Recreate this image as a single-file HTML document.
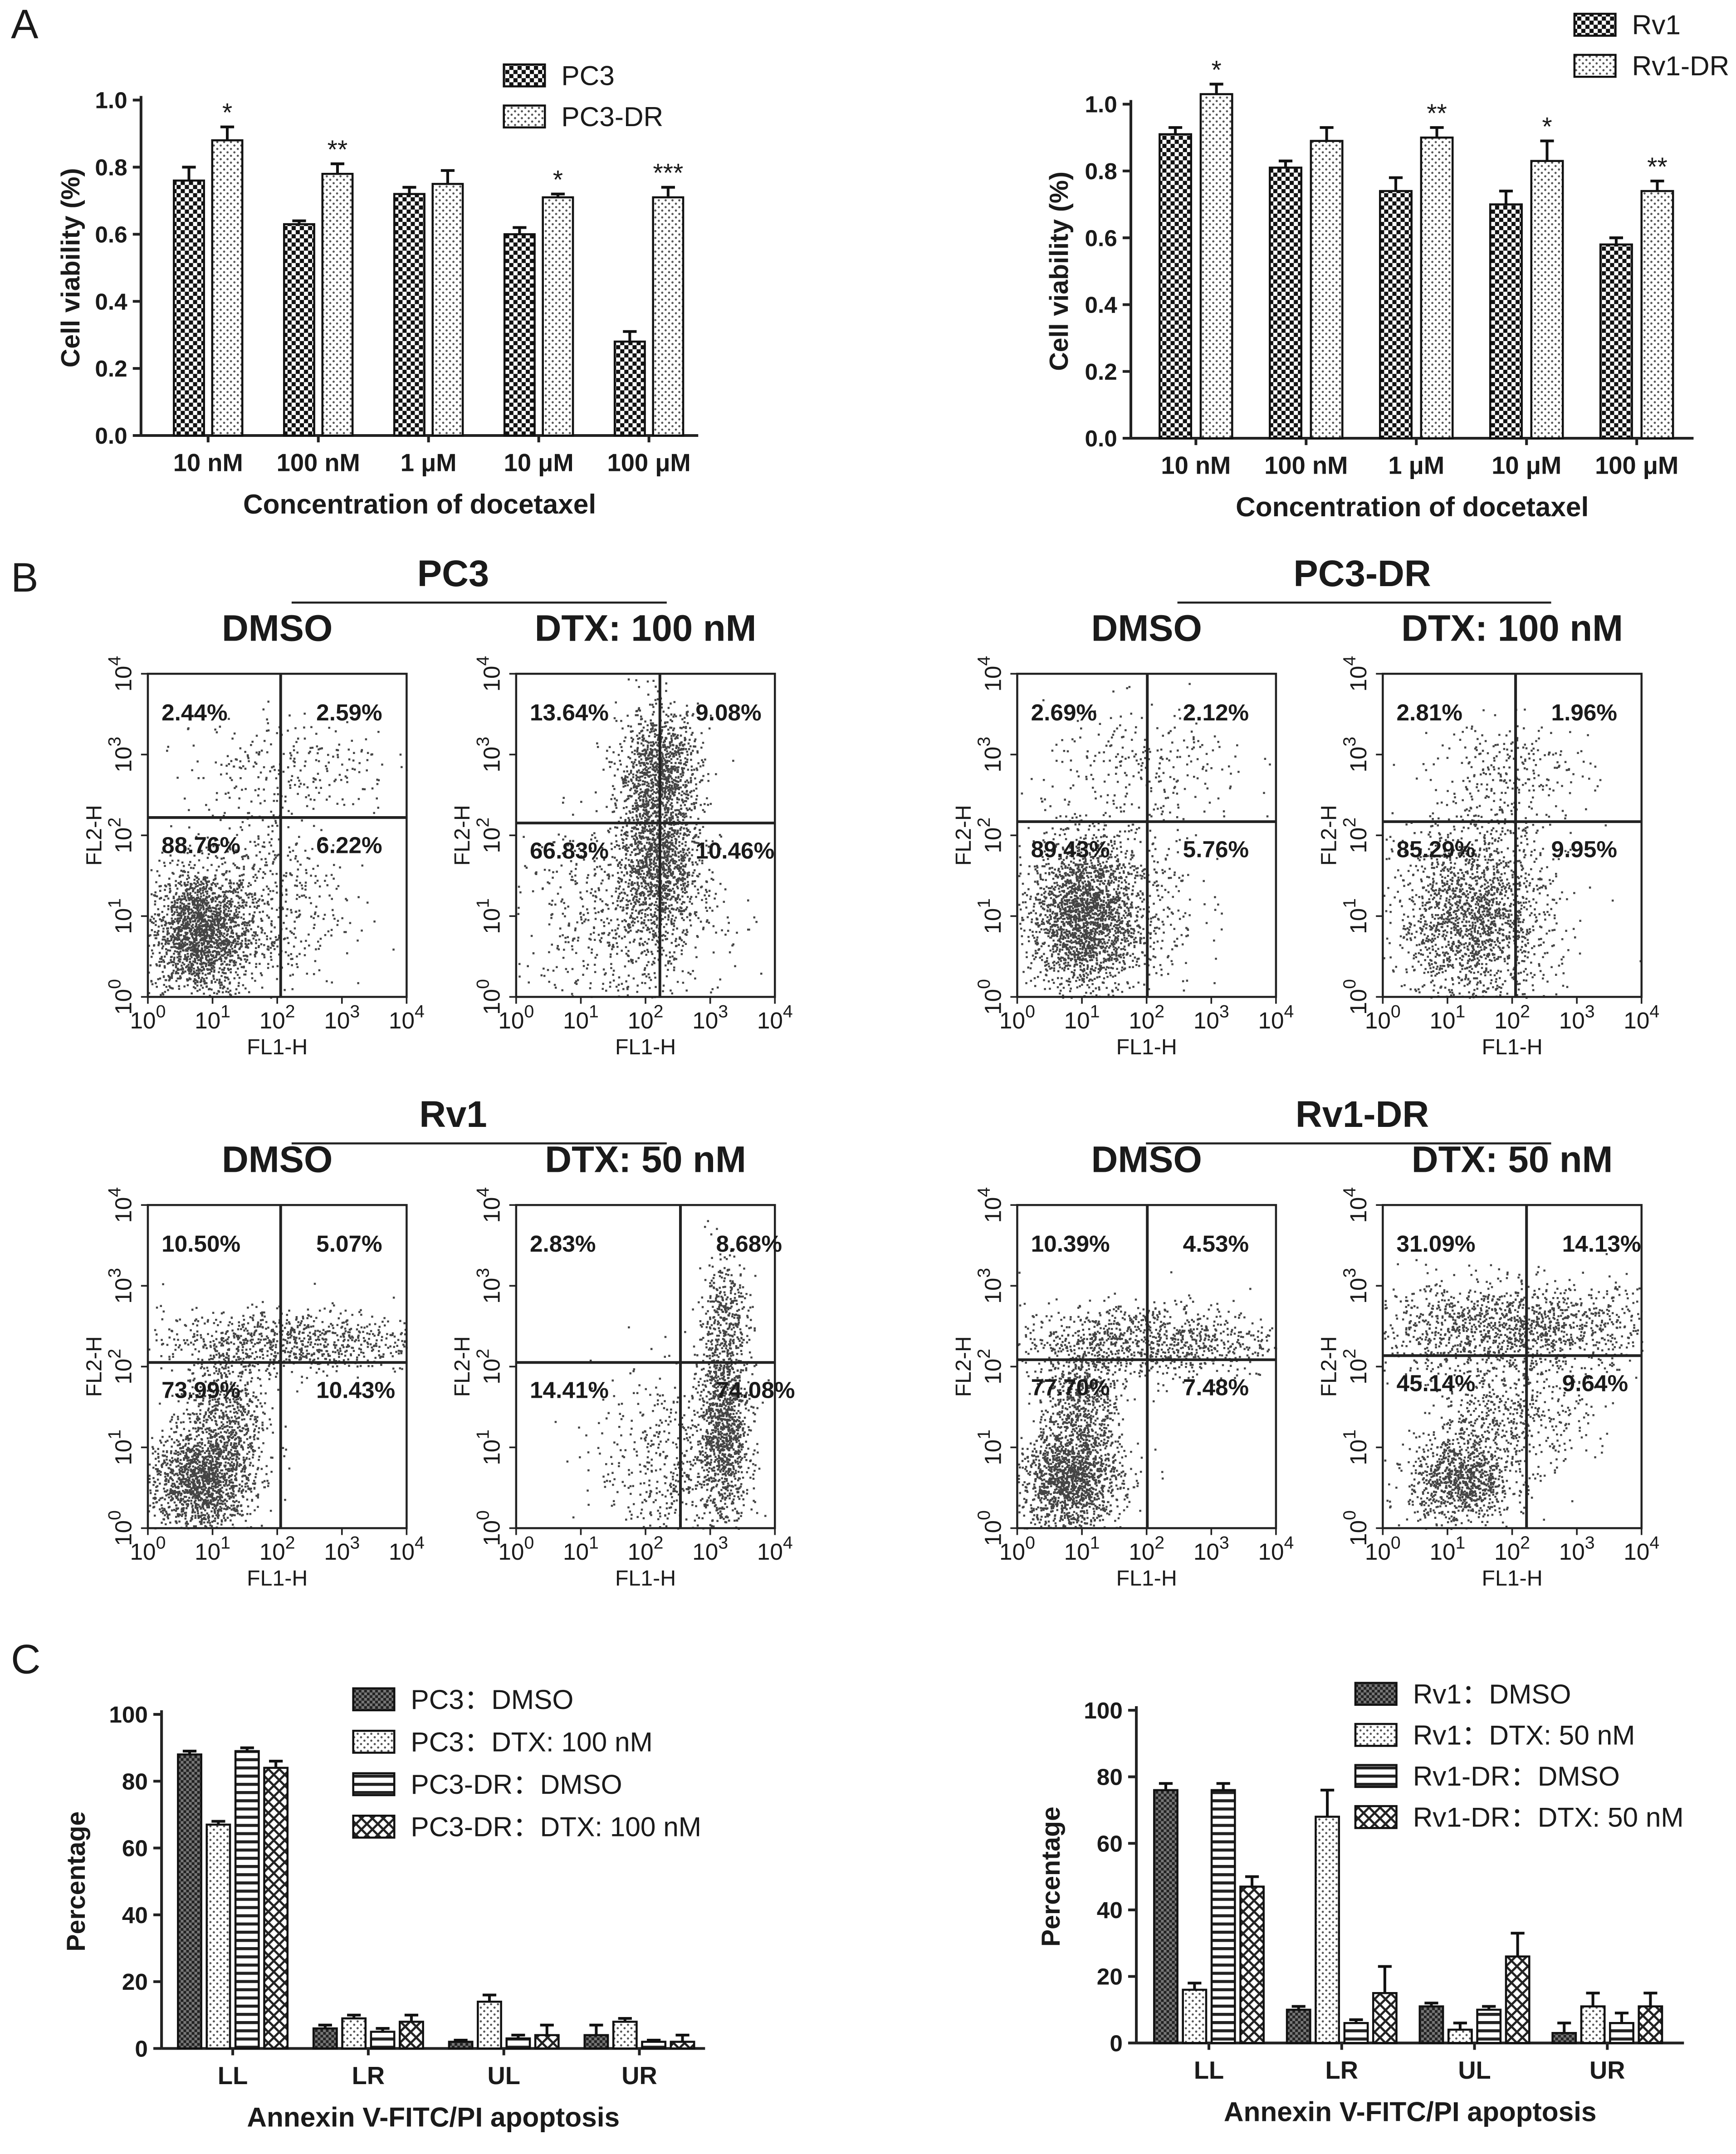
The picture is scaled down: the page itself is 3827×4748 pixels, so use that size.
<!DOCTYPE html>
<html><head><meta charset="utf-8"><style>
html,body{margin:0;padding:0;background:#fff}
svg{display:block}
text{font-family:"Liberation Sans",Arial,sans-serif;fill:#1a1a1a}
</style></head><body>
<svg id="fig" xmlns="http://www.w3.org/2000/svg" width="3827" height="4748" viewBox="0 0 1268 1573">
<defs>
<pattern id="pChk" width="6" height="6" patternUnits="userSpaceOnUse"><rect width="6" height="6" fill="#fff"/><rect width="3" height="3" fill="#111"/><rect x="3" y="3" width="3" height="3" fill="#111"/></pattern>
<pattern id="pDot" width="5" height="5" patternUnits="userSpaceOnUse"><rect width="5" height="5" fill="#fff"/><circle cx="1.2" cy="1.2" r="0.8" fill="#555"/><circle cx="3.7" cy="3.7" r="0.8" fill="#555"/></pattern>
<pattern id="pDense" width="4" height="4" patternUnits="userSpaceOnUse"><rect width="4" height="4" fill="#777"/><rect width="2" height="2" fill="#222"/><rect x="2" y="2" width="2" height="2" fill="#222"/></pattern>
<pattern id="pStripe" width="6" height="6" patternUnits="userSpaceOnUse"><rect width="6" height="6" fill="#fff"/><rect y="0" width="6" height="2.2" fill="#222"/></pattern>
<pattern id="pCross" width="8" height="8" patternUnits="userSpaceOnUse"><rect width="8" height="8" fill="#fff"/><path d="M0 0L8 8M8 0L0 8" stroke="#222" stroke-width="1.6"/></pattern>
</defs>
<g id="root"></g>
</svg>
<script>
// ---------- DATA ----------
const concLabels = ["10 nM","100 nM","1 μM","10 μM","100 μM"];
const pc3Vals = [0.76,0.63,0.72,0.60,0.28];
const pc3Err = [0.04,0.01,0.02,0.02,0.03];
const pc3drVals = [0.88,0.78,0.75,0.71,0.71];
const pc3drErr = [0.04,0.03,0.04,0.01,0.03];
const pcStars = ["*","**","","*","***"];
const rv1Vals = [0.91,0.81,0.74,0.70,0.58];
const rv1Err = [0.02,0.02,0.04,0.04,0.02];
const rv1drVals = [1.03,0.89,0.90,0.83,0.74];
const rv1drErr = [0.03,0.04,0.03,0.06,0.03];
const rvStars = ["*","","**","*","**"];
const yTicksA = [0.0,0.2,0.4,0.6,0.8,1.0];
const quadLabels = ["LL","LR","UL","UR"];
const cPcDmso = [88,6,2,4]; const cPcDmsoErr=[1,1,0.5,3];
const cPcDtx = [67,9,14,8]; const cPcDtxErr=[1,1,2,1];
const cPcDrDmso = [89,5,3,2]; const cPcDrDmsoErr=[1,1,1,0.5];
const cPcDrDtx = [84,8,4,2]; const cPcDrDtxErr=[2,2,3,2];
const cRvDmso = [76,10,11,3]; const cRvDmsoErr=[2,1,1,3];
const cRvDtx = [16,68,4,11]; const cRvDtxErr=[2,8,2,4];
const cRvDrDmso = [76,6,10,6]; const cRvDrDmsoErr=[2,1,1,3];
const cRvDrDtx = [47,15,26,11]; const cRvDrDtxErr=[3,8,7,4];
const yTicksC = [0,20,40,60,80,100];
const flowPct = [
 ["2.44%","2.59%","88.76%","6.22%"],["13.64%","9.08%","66.83%","10.46%"],
 ["2.69%","2.12%","89.43%","5.76%"],["2.81%","1.96%","85.29%","9.95%"],
 ["10.50%","5.07%","73.99%","10.43%"],["2.83%","8.68%","14.41%","74.08%"],
 ["10.39%","4.53%","77.70%","7.48%"],["31.09%","14.13%","45.14%","9.64%"]];
const flowClusters = [
 [[0.2,0.2,0.1,0.1,1200],[0.45,0.3,0.15,0.15,300],[0.55,0.72,0.2,0.08,150]],
 [[0.55,0.42,0.08,0.13,800],[0.55,0.7,0.08,0.1,600],[0.4,0.25,0.2,0.15,400]],
 [[0.25,0.25,0.1,0.12,1200],[0.4,0.3,0.15,0.15,300],[0.5,0.7,0.2,0.1,150]],
 [[0.35,0.25,0.15,0.15,1200],[0.5,0.7,0.15,0.08,150]],
 [[0.2,0.15,0.1,0.08,900],[0.3,0.35,0.08,0.12,400],[0.55,0.58,0.25,0.05,500]],
 [[0.8,0.3,0.05,0.15,700],[0.8,0.65,0.05,0.1,200],[0.6,0.2,0.15,0.15,300]],
 [[0.2,0.15,0.1,0.08,900],[0.25,0.4,0.07,0.1,400],[0.5,0.58,0.25,0.06,600]],
 [[0.3,0.15,0.1,0.07,600],[0.5,0.35,0.15,0.08,300],[0.5,0.62,0.3,0.07,900]]];
// ---------- helpers ----------
const NS="http://www.w3.org/2000/svg";
const root=document.getElementById('root');
function el(tag,attrs,parent,txt){const e=document.createElementNS(NS,tag);for(const k in attrs)e.setAttribute(k,attrs[k]);if(txt!==undefined)e.textContent=txt;(parent||root).appendChild(e);return e;}
function txt(x,y,s,size,opts,parent){opts=opts||{};const a={x:x,y:y,'font-size':size,'text-anchor':opts.anchor||'middle','font-weight':opts.bold?'bold':'normal'};if(opts.rot)a.transform=`rotate(${opts.rot} ${x} ${y})`;const t=el('text',a,parent,s);return t;}

function barChart(cfg){
 const g=el('g',{});
 
 
 const y=v=>cfg.y0-(v-cfg.vmin)/(cfg.vmax-cfg.vmin)*(cfg.y0-cfg.y1);
 el('line',{x1:cfg.ax,y1:cfg.y1-3,x2:cfg.ax,y2:cfg.y0,stroke:'#222','stroke-width':2},g);
 el('line',{x1:cfg.ax,y1:cfg.y0,x2:cfg.axEnd,y2:cfg.y0,stroke:'#222','stroke-width':2},g);
 cfg.ticks.forEach(t=>{el('line',{x1:cfg.ax-6,y1:y(t),x2:cfg.ax,y2:y(t),stroke:'#222','stroke-width':2},g);
  const l=txt(cfg.ax-10,y(t)+6,cfg.tickFmt(t),17,{anchor:'end',bold:true},g);});
 cfg.cats.forEach((c,i)=>{const gx=cfg.gx0+cfg.gstep*i;
  cfg.series.forEach((s,j)=>{const v=s.vals[i];const bx=gx+j*(cfg.bw+cfg.gap);
   const r=el('rect',{x:bx,y:y(v),width:cfg.bw,height:cfg.y0-y(v),fill:`url(#${s.pat})`,stroke:'#111','stroke-width':1.5},g);
   
   
   const e=s.err[i];const cx=bx+cfg.bw/2;
   el('line',{x1:cx,y1:y(v),x2:cx,y2:y(v+e),stroke:'#111','stroke-width':2},g);
   el('line',{x1:cx-5,y1:y(v+e),x2:cx+5,y2:y(v+e),stroke:'#111','stroke-width':2},g);
   if(s.stars&&s.stars[i]){const st=txt(cx,y(v+e)-4,s.stars[i],19,{},g);}
  });
  const w=cfg.series.length*cfg.bw+(cfg.series.length-1)*cfg.gap;
  el('line',{x1:gx+w/2,y1:cfg.y0,x2:gx+w/2,y2:cfg.y0+5,stroke:'#222','stroke-width':2},g);
  const xl=txt(gx+w/2,cfg.y0+26,c,18,{bold:true},g);
 });
 const yt=txt(cfg.ylabX,(cfg.y0+cfg.y1)/2,cfg.ylab,19,{bold:true,rot:-90},g);
 const xt=txt((cfg.ax+cfg.axEnd)/2,cfg.y0+57,cfg.xlab,20,{bold:true},g);
 cfg.legend.forEach((L,k)=>{const ly=cfg.legY+k*cfg.legStep;
  const lr=el('rect',{x:cfg.legX,y:ly,width:30,height:16,fill:`url(#${L.pat})`,stroke:'#111','stroke-width':1.5},g);
  
  const lt=txt(cfg.legX+42,ly+15,L.label,20,{anchor:'start'},g);});
}
[["A",8,28],["B",8,432],["C",8,1222]].forEach(p=>{const t=txt(p[1],p[2],p[0],30,{anchor:'start'});});

barChart({name:'chart-pc3-viability',ax:103,axEnd:510,y0:318,y1:73,vmin:0,vmax:1,ticks:yTicksA,tickFmt:t=>t.toFixed(1),
 cats:concLabels,gx0:127,gstep:80.5,bw:22,gap:6,
 series:[{key:'pc3',vals:pc3Vals,err:pc3Err,pat:'pChk'},{key:'pc3dr',vals:pc3drVals,err:pc3drErr,pat:'pDot',stars:pcStars}],
 ylab:'Cell viability (%)',ylabX:58,xlab:'Concentration of docetaxel',
 legend:[{pat:'pChk',label:'PC3'},{pat:'pDot',label:'PC3-DR'}],legX:368,legY:47,legStep:30});
barChart({name:'chart-rv1-viability',ax:826,axEnd:1237,y0:320,y1:76,vmin:0,vmax:1,ticks:yTicksA,tickFmt:t=>t.toFixed(1),
 cats:concLabels,gx0:847,gstep:80.5,bw:23,gap:7,
 series:[{key:'rv1',vals:rv1Vals,err:rv1Err,pat:'pChk'},{key:'rv1dr',vals:rv1drVals,err:rv1drErr,pat:'pDot',stars:rvStars}],
 ylab:'Cell viability (%)',ylabX:780,xlab:'Concentration of docetaxel',
 legend:[{pat:'pChk',label:'Rv1'},{pat:'pDot',label:'Rv1-DR'}],legX:1150,legY:10,legStep:30});
barChart({name:'chart-pc3-apoptosis',ax:118,axEnd:515,y0:1496,y1:1252,vmin:0,vmax:100,ticks:yTicksC,tickFmt:t=>String(t),
 cats:quadLabels,gx0:130,gstep:99,bw:17,gap:4,
 series:[{key:'pc3-dmso',vals:cPcDmso,err:cPcDmsoErr,pat:'pDense'},{key:'pc3-dtx',vals:cPcDtx,err:cPcDtxErr,pat:'pDot'},{key:'pc3dr-dmso',vals:cPcDrDmso,err:cPcDrDmsoErr,pat:'pStripe'},{key:'pc3dr-dtx',vals:cPcDrDtx,err:cPcDrDtxErr,pat:'pCross'}],
 ylab:'Percentage',ylabX:62,xlab:'Annexin V-FITC/PI apoptosis',
 legend:[{pat:'pDense',label:'PC3：DMSO'},{pat:'pDot',label:'PC3：DTX: 100 nM'},{pat:'pStripe',label:'PC3-DR：DMSO'},{pat:'pCross',label:'PC3-DR：DTX: 100 nM'}],legX:258,legY:1233,legStep:31});
barChart({name:'chart-rv1-apoptosis',ax:830,axEnd:1230,y0:1492,y1:1249,vmin:0,vmax:100,ticks:yTicksC,tickFmt:t=>String(t),
 cats:quadLabels,gx0:843,gstep:97,bw:17,gap:4,
 series:[{key:'rv1-dmso',vals:cRvDmso,err:cRvDmsoErr,pat:'pDense'},{key:'rv1-dtx',vals:cRvDtx,err:cRvDtxErr,pat:'pDot'},{key:'rv1dr-dmso',vals:cRvDrDmso,err:cRvDrDmsoErr,pat:'pStripe'},{key:'rv1dr-dtx',vals:cRvDrDtx,err:cRvDrDtxErr,pat:'pCross'}],
 ylab:'Percentage',ylabX:774,xlab:'Annexin V-FITC/PI apoptosis',
 legend:[{pat:'pDense',label:'Rv1：DMSO'},{pat:'pDot',label:'Rv1：DTX: 50 nM'},{pat:'pStripe',label:'Rv1-DR：DMSO'},{pat:'pCross',label:'Rv1-DR：DTX: 50 nM'}],legX:990,legY:1229,legStep:30});

// ---------- flow plots ----------
let seed=12345;function rnd(){seed=(seed*1103515245+12345)%2147483648;return seed/2147483648;}
function gauss(){let u=rnd()||1e-9,v=rnd();return Math.sqrt(-2*Math.log(u))*Math.cos(2*Math.PI*v);}
const boxes=[[108,492,205,597],[377,492,482,601],[743,492,838,600],[1010,492,1107,600],
 [108,880,205,995],[377,880,497,995],[743,880,838,993],[1010,880,1115,990]];
const titles=["DMSO","DTX: 100 nM","DMSO","DTX: 100 nM","DMSO","DTX: 50 nM","DMSO","DTX: 50 nM"];
const W=189,H=236;
boxes.forEach((b,i)=>{const [x0,y0,qx,qy]=b;const g=el('g',{});
 
 
 let d='';
 flowClusters[i].forEach(c=>{const n=Math.round(c[4]*1.6);for(let k=0;k<n;k++){let fx=c[0]+gauss()*c[2],fy=c[1]+gauss()*c[3];if(fx<0||fx>1||fy<0||fy>1)continue;d+=`M${(x0+fx*W).toFixed(1)} ${(y0+H-fy*H).toFixed(1)}h1.5v1.5h-1.5z`;}});
 el('path',{d:d,fill:'#444'},g);
 el('rect',{x:x0,y:y0,width:W,height:H,fill:'none',stroke:'#222','stroke-width':1.5},g);
 el('line',{x1:qx,y1:y0,x2:qx,y2:y0+H,stroke:'#222','stroke-width':2},g);
 el('line',{x1:x0,y1:qy,x2:x0+W,y2:qy,stroke:'#222','stroke-width':2},g);
 const p=flowPct[i];const o={bold:true,anchor:'start'};
 [[x0+10,y0+34,p[0]],[qx+26,y0+34,p[1]],[x0+10,qy+26,p[2]],[qx+26,qy+26,p[3]]].forEach(q=>{const t=txt(q[0],q[1],q[2],17,o,g);});
 for(let k=0;k<5;k++){const tx=x0+k*W/4,ty=y0+H-k*H/4;
  el('line',{x1:tx,y1:y0+H,x2:tx,y2:y0+H+5,stroke:'#222','stroke-width':1.2},g);
  el('line',{x1:x0-5,y1:ty,x2:x0,y2:ty,stroke:'#222','stroke-width':1.2},g);
  const xt=el('text',{x:tx,y:y0+H+23,'font-size':17,'text-anchor':'middle'},g);xt.innerHTML=`10<tspan dy="-8" font-size="13">${k}</tspan>`;
  
  const yt=el('text',{x:x0-12,y:ty,'font-size':17,'text-anchor':'middle',transform:`rotate(-90 ${x0-12} ${ty})`},g);yt.innerHTML=`10<tspan dy="-8" font-size="13">${k}</tspan>`;
  }
 const xl=txt(x0+W/2,y0+H+42,'FL1-H',16,{},g);
 const yl=txt(x0-34,y0+H/2,'FL2-H',16,{rot:-90},g);
 const tt=txt(x0+W/2,y0-24,titles[i],27,{bold:true},g);
});
[["PC3",331,428,213,487,440],["PC3-DR",995,428,860,1133,440],["Rv1",331,823,213,487,835],["Rv1-DR",995,823,837,1133,835]].forEach(h=>{
 const t=txt(h[1],h[2],h[0],27,{bold:true});
 el('line',{x1:h[3],y1:h[5],x2:h[4],y2:h[5],stroke:'#222','stroke-width':1.5});});
</script>
</body></html>
